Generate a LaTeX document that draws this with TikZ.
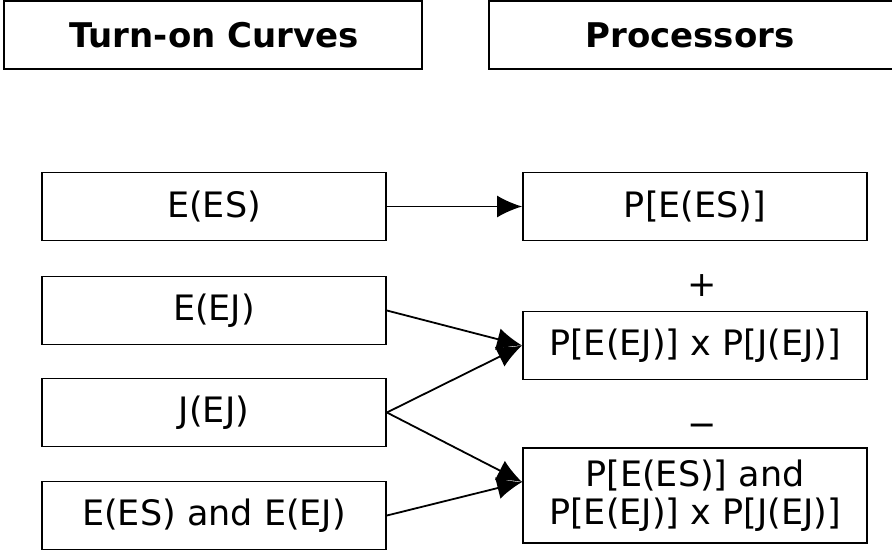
\documentclass[tikz,border=0pt]{standalone}
\usepackage{fontspec}
\setmainfont{DejaVu Sans}
\usetikzlibrary{arrows.meta}
\begin{document}
\begin{tikzpicture}[x=1pt,y=-1pt,
  box/.style={draw=black,line width=1.8pt,rectangle,inner sep=0pt,
    minimum width=344pt,font=\fontsize{35}{38}\selectfont,align=center},
  hdr/.style={font=\bfseries\fontsize{34}{40}\selectfont},
  sign/.style={font=\fontsize{35}{40}\selectfont,inner sep=0pt,anchor=base},
  conn/.style={line width=1.8pt,-{Latex[length=25pt,width=22pt]}}]
\useasboundingbox (0,0) rectangle (892,555);
% headers
\draw[line width=1.8pt] (4,1) rectangle (422,69);
\draw[line width=1.8pt] (489,1) rectangle (896,69);
\node[hdr] (h1) at (214,35) {Turn-on Curves};
\node[hdr] (h2) at (690,35) {Processors};
% left column
\node[box,minimum height=68pt] (L1) at (214,206.5) {E(ES)};
\node[box,minimum height=68pt] (L2) at (214,310.5) {E(EJ)};
\node[box,minimum height=68pt] (L3) at (214,412.5) {J(EJ)};
\node[box,minimum height=68pt] (L4) at (214,515.5) {E(ES) and E(EJ)};
% right column
\node[box,minimum height=68pt] (R1) at (695,206.5) {P[E(ES)]};
\node[box,minimum height=68pt] (R2) at (695,345.5) {P[E(EJ)] x P[J(EJ)]};
\node[box,minimum height=95pt] (R3) at (695,495.5) {P[E(ES)] and\\P[E(EJ)] x P[J(EJ)]};
\node[sign] (plus) at (702,296) {+};
\node[sign] (minus) at (702,436) {−};
\coordinate (R3in) at ([yshift=13.5pt]R3.west);
% connectors
\draw[conn] (L1.east) -- (R1.west);
\draw[conn] (L2.east) -- (R2.west);
\draw[conn] (L3.east) -- (R2.west);
\draw[conn] (L3.east) -- (R3in);
\draw[conn] (L4.east) -- (R3in);
\end{tikzpicture}
\end{document}
